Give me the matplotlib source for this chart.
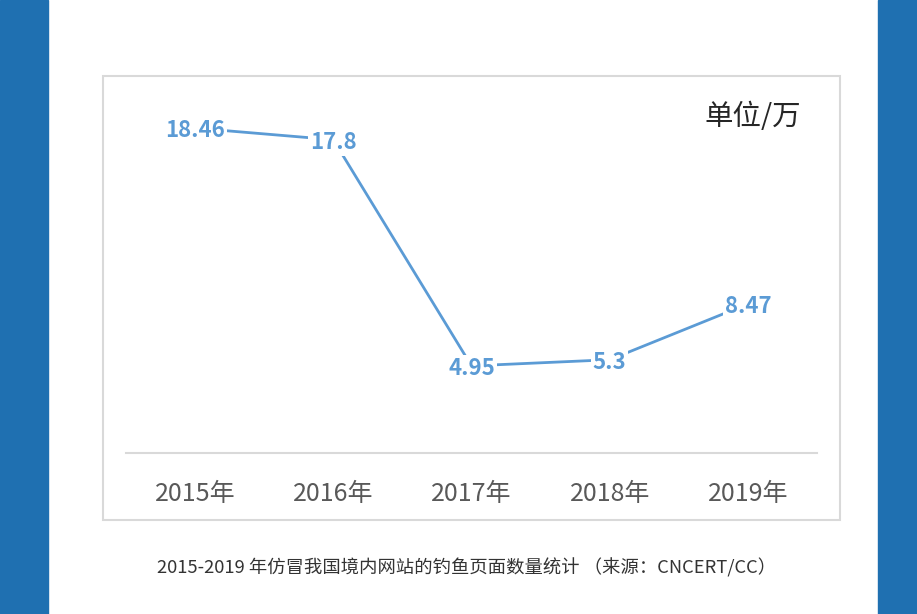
import matplotlib
matplotlib.use("Agg")
import matplotlib.pyplot as plt
from matplotlib.patches import Rectangle

plt.rcParams['font.family'] = ['Noto Sans CJK SC', 'DejaVu Sans']

years = ["2015年", "2016年", "2017年", "2018年", "2019年"]
values = [18.46, 17.8, 4.95, 5.3, 8.47]
value_labels = ["18.46", "17.8", "4.95", "5.3", "8.47"]
unit_text = "单位/万"
caption = "2015-2019 年仿冒我国境内网站的钓鱼页面数量统计 （来源：CNCERT/CC）"

W, H = 917, 614
fig = plt.figure(figsize=(W / 100, H / 100), dpi=100)
fig.patch.set_facecolor("white")

# side bars
blue = "#1f70b1"
fig.add_artist(Rectangle((0, 0), 48 / W, 1, transform=fig.transFigure, color=blue, zorder=0))
fig.add_artist(Rectangle((878 / W, 0), 1 - 878 / W, 1, transform=fig.transFigure, color=blue, zorder=0))

# chart border
fig.add_artist(Rectangle((103 / W, (H - 520) / H), 737 / W, 444 / H, transform=fig.transFigure,
                         fill=False, edgecolor="#d9d9d9", lw=1.5, zorder=1))

ax = fig.add_axes([126 / W, (H - 453) / H, 691 / W, (453 - 101) / H])
ax.set_facecolor("none")
x = list(range(len(years)))
ax.plot(x, values, color="#5b9bd5", lw=2.0, solid_capstyle="butt", zorder=2)
ax.set_xlim(-0.5, 4.5)
ax.set_ylim(0, 20)

for xi, v, lab in zip(x, values, value_labels):
    ax.annotate(lab, (xi, v), xytext=(0, -2), textcoords="offset points",
                ha="center", va="center", fontsize=16, fontweight="bold",
                color="#5b9bd5", zorder=3,
                bbox=dict(boxstyle="square,pad=0.08", fc="white", ec="none"))

for s in ["top", "right", "left"]:
    ax.spines[s].set_visible(False)
ax.spines["bottom"].set_color("#d9d9d9")
ax.spines["bottom"].set_linewidth(1.5)
ax.set_yticks([])
ax.set_xticks(x)
ax.set_xticklabels(years, fontsize=18, color="#595959")
ax.tick_params(axis="x", length=0, pad=20)

fig.text(753 / W, (H - 117) / H, unit_text, ha="center", va="center", fontsize=20.5, color="#262626")
fig.text(467 / W, (H - 568) / H, caption, ha="center", va="center", fontsize=13.2, color="#333333")

fig.savefig("out.png", dpi=100, facecolor="white")
